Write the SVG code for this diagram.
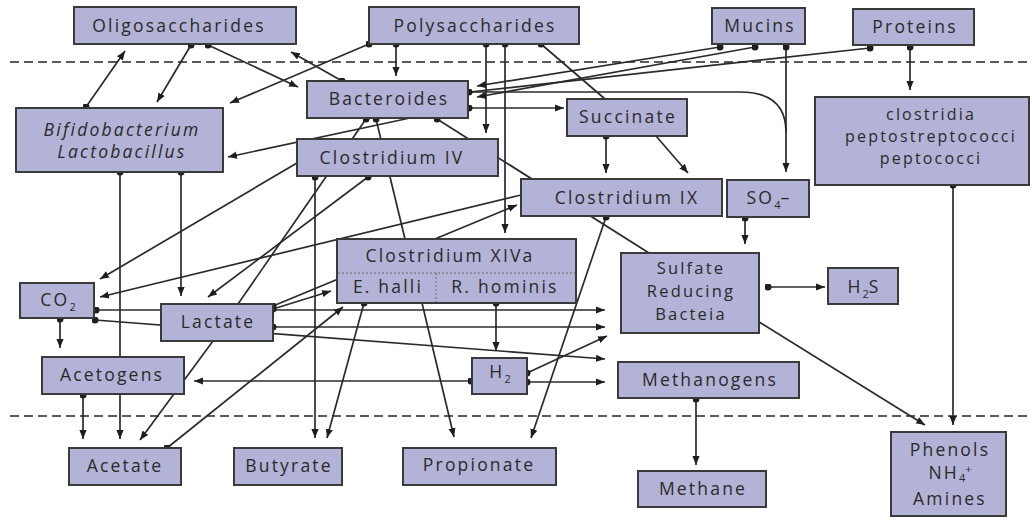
<svg xmlns="http://www.w3.org/2000/svg" width="1032" height="520" viewBox="0 0 1032 520">
<style>
.box{fill:#b3b3d7;stroke:#3a3a3a;stroke-width:2}
.t{font-family:"Open Sans","Lato",sans-serif;font-size:17.5px;fill:#2a2a2a;text-anchor:middle;letter-spacing:2.2px}
.it{font-style:italic}
.sm{font-size:16px}
.md{font-size:16.5px}
.sub{font-size:11px;letter-spacing:0}
.c line,.c path{stroke:#2b2b2b;stroke-width:1.7;fill:none}
.dash{stroke:#5a5a5a;stroke-width:2;stroke-dasharray:9 5;fill:none}
.div{stroke:#6a6a6a;stroke-width:1;stroke-dasharray:2 2;fill:none}
</style>
<defs>
<marker id="arr" viewBox="0 0 10 10" refX="10" refY="5" markerWidth="9" markerHeight="9" markerUnits="userSpaceOnUse" orient="auto"><path d="M0,1 L10,5 L0,9 z" fill="#1e1e1e"/></marker>
<marker id="dot" viewBox="0 0 10 10" refX="5" refY="5" markerWidth="7" markerHeight="7" markerUnits="userSpaceOnUse"><circle cx="5" cy="5" r="5" fill="#1e1e1e"/></marker>
</defs>
<rect width="1032" height="520" fill="#ffffff"/>
<g id="layers">
<line class="dash" x1="10" y1="62" x2="1032" y2="62"/>
<line class="dash" x1="10" y1="416" x2="1032" y2="416"/>
</g>
<g id="connectors" class="c">
<line x1="86" y1="107" x2="125" y2="51" marker-start="url(#dot)" marker-end="url(#arr)"/>
<line x1="191" y1="45" x2="157" y2="102" marker-start="url(#dot)" marker-end="url(#arr)"/>
<line x1="208" y1="45" x2="298" y2="87" marker-start="url(#dot)" marker-end="url(#arr)"/>
<line x1="342" y1="81" x2="291" y2="52" marker-start="url(#dot)" marker-end="url(#arr)"/>
<line x1="369" y1="44" x2="230" y2="103" marker-start="url(#dot)" marker-end="url(#arr)"/>
<line x1="396" y1="44" x2="396" y2="76" marker-start="url(#dot)" marker-end="url(#arr)"/>
<line x1="486" y1="44" x2="486" y2="133" marker-start="url(#dot)" marker-end="url(#arr)"/>
<line x1="505" y1="44" x2="505" y2="233" marker-start="url(#dot)" marker-end="url(#arr)"/>
<line x1="541" y1="44" x2="605" y2="99" marker-start="url(#dot)"/>
<line x1="720" y1="47" x2="477" y2="86" marker-start="url(#dot)" marker-end="url(#arr)"/>
<line x1="755" y1="47" x2="477" y2="97" marker-start="url(#dot)" marker-end="url(#arr)"/>
<line x1="870" y1="48" x2="470" y2="92" marker-start="url(#dot)"/>
<path d="M469,92 L740,92 C772,92 786,106 786,132" marker-start="url(#dot)"/>
<line x1="786" y1="47" x2="786" y2="172" marker-start="url(#dot)" marker-end="url(#arr)"/>
<line x1="469" y1="108" x2="564" y2="108" marker-start="url(#dot)" marker-end="url(#arr)"/>
<line x1="910" y1="47" x2="910" y2="90" marker-start="url(#dot)" marker-end="url(#arr)"/>
<line x1="606" y1="136" x2="606" y2="173" marker-start="url(#dot)" marker-end="url(#arr)"/>
<line x1="656" y1="136" x2="688" y2="173" marker-end="url(#arr)"/>
<line x1="366" y1="119" x2="238" y2="304" marker-start="url(#dot)"/>
<line x1="376" y1="119" x2="405" y2="239" marker-start="url(#dot)"/>
<line x1="437" y1="119" x2="649" y2="253" marker-start="url(#dot)"/>
<line x1="410" y1="118" x2="228" y2="157" marker-end="url(#arr)"/>
<line x1="297" y1="163" x2="100" y2="279" marker-end="url(#arr)"/>
<line x1="315" y1="177" x2="315" y2="438" marker-start="url(#dot)" marker-end="url(#arr)"/>
<line x1="368" y1="177" x2="208" y2="297" marker-start="url(#dot)" marker-end="url(#arr)"/>
<line x1="521" y1="195" x2="100" y2="297" marker-end="url(#arr)"/>
<line x1="273" y1="306" x2="517" y2="205" marker-start="url(#dot)" marker-end="url(#arr)"/>
<line x1="273" y1="309" x2="331" y2="291" marker-start="url(#dot)" marker-end="url(#arr)"/>
<line x1="96" y1="310" x2="605" y2="310" marker-start="url(#dot)" marker-end="url(#arr)"/>
<line x1="95" y1="320" x2="605" y2="359" marker-start="url(#dot)" marker-end="url(#arr)"/>
<line x1="273" y1="327" x2="605" y2="327" marker-start="url(#dot)" marker-end="url(#arr)"/>
<line x1="120" y1="172" x2="120" y2="439" marker-start="url(#dot)" marker-end="url(#arr)"/>
<line x1="181" y1="172" x2="181" y2="296" marker-start="url(#dot)" marker-end="url(#arr)"/>
<line x1="60" y1="319" x2="60" y2="348" marker-start="url(#dot)" marker-end="url(#arr)"/>
<line x1="83" y1="395" x2="83" y2="439" marker-start="url(#dot)" marker-end="url(#arr)"/>
<line x1="213" y1="341" x2="140" y2="440" marker-end="url(#arr)"/>
<line x1="471" y1="381" x2="194" y2="381" marker-start="url(#dot)" marker-end="url(#arr)"/>
<line x1="167" y1="448" x2="343" y2="307" marker-start="url(#dot)" marker-end="url(#arr)"/>
<line x1="364" y1="303" x2="327" y2="438" marker-start="url(#dot)" marker-end="url(#arr)"/>
<line x1="422" y1="303" x2="454" y2="437" marker-end="url(#arr)"/>
<line x1="496" y1="303" x2="496" y2="351" marker-start="url(#dot)" marker-end="url(#arr)"/>
<line x1="606" y1="217" x2="531" y2="438" marker-start="url(#dot)" marker-end="url(#arr)"/>
<line x1="527" y1="373" x2="607" y2="336" marker-start="url(#dot)" marker-end="url(#arr)"/>
<line x1="527" y1="382" x2="605" y2="382" marker-start="url(#dot)" marker-end="url(#arr)"/>
<line x1="745" y1="218" x2="745" y2="244" marker-start="url(#dot)" marker-end="url(#arr)"/>
<line x1="768" y1="287" x2="825" y2="287" marker-start="url(#dot)" marker-end="url(#arr)"/>
<line x1="759" y1="322" x2="925" y2="425" marker-end="url(#arr)"/>
<line x1="953" y1="185" x2="953" y2="425" marker-start="url(#dot)" marker-end="url(#arr)"/>
<line x1="696" y1="399" x2="696" y2="465" marker-start="url(#dot)" marker-end="url(#arr)"/>
</g>
<g id="oligosaccharides"><rect class="box" x="74" y="7" width="222" height="37"/><text class="t" x="179" y="32">Oligosaccharides</text></g>
<g id="polysaccharides"><rect class="box" x="369" y="7" width="210" height="37"/><text class="t" x="475" y="32">Polysaccharides</text></g>
<g id="mucins"><rect class="box" x="712" y="8" width="93" height="36"/><text class="t" x="760" y="32">Mucins</text></g>
<g id="proteins"><rect class="box" x="853" y="9" width="121" height="36"/><text class="t" x="915" y="33">Proteins</text></g>
<g id="bacteroides"><rect class="box" x="307" y="81" width="161" height="37"/><text class="t" x="389" y="105">Bacteroides</text></g>
<g id="bifido"><rect class="box" x="16" y="108" width="207" height="64"/><text class="t it"><tspan x="122" y="136">Bifidobacterium</tspan><tspan x="122" y="158">Lactobacillus</tspan></text></g>
<g id="succinate"><rect class="box" x="567" y="99" width="120" height="37"/><text class="t" x="628" y="123">Succinate</text></g>
<g id="clostridium-iv"><rect class="box" x="297" y="139" width="201" height="37"/><text class="t" x="392" y="164">Clostridium IV</text></g>
<g id="clostridium-ix"><rect class="box" x="521" y="179" width="201" height="37"/><text class="t" x="627" y="204">Clostridium IX</text></g>
<g id="so4"><rect class="box" x="727" y="180" width="82" height="37"/><text class="t" x="769" y="204">SO<tspan class="sub" dy="5">4</tspan><tspan dy="-5">–</tspan></text></g>
<g id="clostridia"><rect class="box" x="815" y="97" width="214" height="88"/><text class="t sm"><tspan x="931" y="120">clostridia</tspan><tspan x="931" y="142">peptostreptococci</tspan><tspan x="931" y="164">peptococci</tspan></text></g>
<g id="clostridium-xiva"><rect class="box" x="337" y="239" width="239" height="64"/><line class="div" x1="338" y1="273" x2="575" y2="273"/><line class="div" x1="436" y1="273" x2="436" y2="302"/><text class="t" x="450" y="262">Clostridium XIVa</text><text class="t" x="388" y="293">E. halli</text><text class="t" x="505" y="293">R. hominis</text></g>
<g id="sulfate"><rect class="box" x="621" y="253" width="138" height="80"/><text class="t md"><tspan x="691" y="274">Sulfate</tspan><tspan x="691" y="297">Reducing</tspan><tspan x="691" y="320">Bacteia</tspan></text></g>
<g id="h2s"><rect class="box" x="828" y="268" width="70" height="36"/><text class="t" x="864" y="293">H<tspan class="sub" dy="5">2</tspan><tspan dy="-5">S</tspan></text></g>
<g id="co2"><rect class="box" x="20" y="283" width="74" height="35"/><text class="t" x="58" y="306">CO<tspan class="sub" dy="5">2</tspan></text></g>
<g id="lactate"><rect class="box" x="161" y="304" width="112" height="37"/><text class="t" x="218" y="328">Lactate</text></g>
<g id="acetogens"><rect class="box" x="42" y="357" width="142" height="37"/><text class="t" x="112" y="381">Acetogens</text></g>
<g id="h2"><rect class="box" x="472" y="358" width="55" height="36"/><text class="t" x="500" y="378">H<tspan class="sub" dy="5">2</tspan></text></g>
<g id="methanogens"><rect class="box" x="618" y="362" width="181" height="36"/><text class="t" x="710" y="386">Methanogens</text></g>
<g id="acetate"><rect class="box" x="69" y="448" width="112" height="37"/><text class="t" x="125" y="472">Acetate</text></g>
<g id="butyrate"><rect class="box" x="234" y="448" width="108" height="37"/><text class="t" x="289" y="472">Butyrate</text></g>
<g id="propionate"><rect class="box" x="403" y="448" width="153" height="37"/><text class="t" x="479" y="471">Propionate</text></g>
<g id="methane"><rect class="box" x="638" y="471" width="128" height="36"/><text class="t" x="703" y="495">Methane</text></g>
<g id="phenols"><rect class="box" x="891" y="432" width="115" height="84"/><text class="t"><tspan x="950" y="456">Phenols</tspan><tspan x="950" y="479">NH<tspan class="sub" dy="3">4</tspan><tspan class="sub" dy="-9">+</tspan></tspan><tspan x="950" y="505">Amines</tspan></text></g>
</svg>
